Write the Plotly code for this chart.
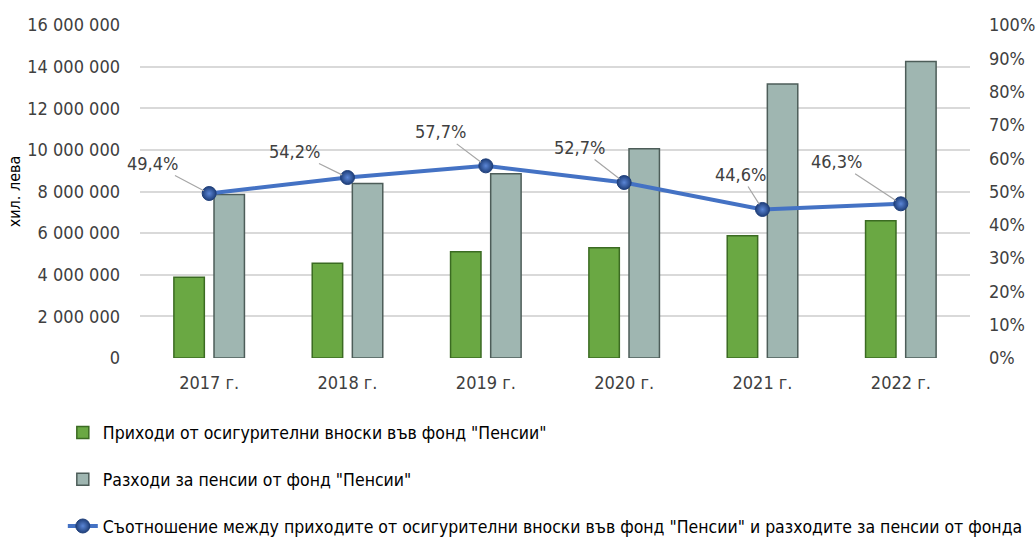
import plotly.graph_objects as go

years = ["2017 г.", "2018 г.", "2019 г.", "2020 г.", "2021 г.", "2022 г."]
income = [3880000, 4550000, 5100000, 5300000, 5870000, 6590000]
expenses = [7850000, 8390000, 8850000, 10050000, 13170000, 14250000]
ratio = [0.494, 0.542, 0.577, 0.527, 0.446, 0.463]
label_ax = [-57, -53, -45, -45, -22, -64]
label_ay = [-30, -26, -34, -35, -35, -42]

name_income = 'Приходи от осигурителни вноски във фонд "Пенсии"'
name_exp = 'Разходи за пенсии от фонд "Пенсии"'
name_ratio = 'Съотношение между приходите от осигурителни вноски във фонд "Пенсии" и разходите за пенсии от фонда'

FONT = "DejaVu Sans Condensed, Liberation Sans Narrow, Arial Narrow, sans-serif"
TXT = "#404040"

fig = go.Figure()
fig.add_trace(go.Bar(
    x=years, y=income, name=name_income, legendgroup="a",
    width=0.22, offset=-0.255,
    marker=dict(color="#6aa843", line=dict(color="#3b6b22", width=1.5)),
))
fig.add_trace(go.Bar(
    x=years, y=expenses, name=name_exp, legendgroup="b",
    width=0.22, offset=0.035,
    marker=dict(color="#9fb6b1", line=dict(color="#4d5d59", width=1.5)),
))
fig.add_trace(go.Scatter(
    x=years, y=ratio, name=name_ratio, legendgroup="c", yaxis="y2",
    mode="lines+markers",
    line=dict(color="#4472c4", width=4),
    marker=dict(size=14, color="#1f3f7a", symbol="circle",
                gradient=dict(type="radial", color="#5b86d6"),
                line=dict(color="#1f3f7a", width=1)),
))

for i, (yr, r) in enumerate(zip(years, ratio)):
    fig.add_annotation(
        x=yr, y=r, yref="y2", xref="x",
        text=f"{r*100:.1f}%".replace(".", ","),
        showarrow=True, arrowhead=0, arrowwidth=1.2, arrowcolor="#a6a6a6",
        ax=label_ax[i], ay=label_ay[i], standoff=6,
        font=dict(family=FONT, size=18, color=TXT),
    )

fig.update_layout(
    width=1036, height=539,
    margin=dict(l=140, r=66, t=25, b=181, autoexpand=False),
    paper_bgcolor="white", plot_bgcolor="white",
    separators=", ",
    font=dict(family=FONT, size=18, color=TXT),
    barmode="overlay",
    showlegend=True,
    legend=dict(
        orientation="v",
        x=-0.093, y=-0.17, xanchor="left", yanchor="top",
        traceorder="grouped", tracegroupgap=21,
        font=dict(family=FONT, size=17.5, color="#000000"),
        bgcolor="rgba(0,0,0,0)",
    ),
    xaxis=dict(
        type="category", showgrid=False, zeroline=False, range=[-0.5, 5.5],
        showline=False, ticks="", ticklabelstandoff=12,
        tickfont=dict(size=18, color=TXT),
    ),
    yaxis=dict(
        range=[0, 16000000], dtick=2000000, tickformat=",d",
        showgrid=True, gridcolor="#d9d9d9", gridwidth=1.5,
        zeroline=False, showline=False, ticks="",
        ticklabelstandoff=19,
        title=dict(text="хил. лева", font=dict(size=16, color="#000000"), standoff=2),
        tickfont=dict(size=18, color=TXT),
    ),
    yaxis2=dict(
        range=[0, 1], dtick=0.1, tickformat=".0%",
        overlaying="y", side="right", showgrid=False,
        zeroline=False, showline=False, ticks="",
        ticklabelstandoff=18,
        tickfont=dict(size=18, color=TXT),
    ),
)

fig.write_html("out.html", config={"displayModeBar": False},
               post_script="document.body.style.margin='0';")
